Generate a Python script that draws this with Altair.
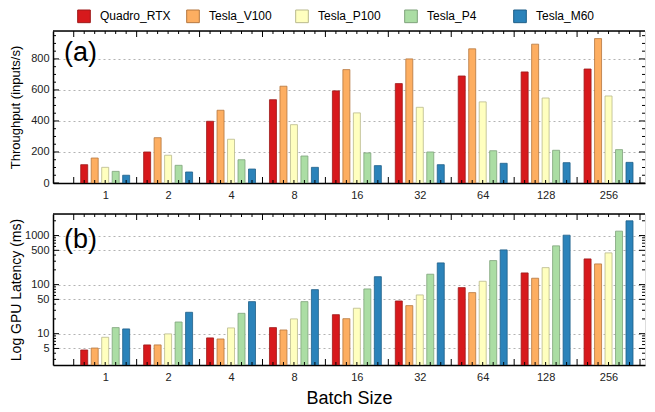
import altair as alt
import pandas as pd
import numpy as np

batches = ["1", "2", "4", "8", "16", "32", "64", "128", "256"]
gpus = ["Quadro_RTX", "Tesla_V100", "Tesla_P100", "Tesla_P4", "Tesla_M60"]
colors = ["#d7191c", "#fdae61", "#ffffbf", "#abdda4", "#2b83ba"]
strokes = ["#9e1a1a", "#b5773f", "#b9b98c", "#7ea27a", "#1f5f88"]

throughput = {
    "Quadro_RTX": [118, 200, 398, 537, 594, 641, 690, 716, 735],
    "Tesla_V100": [161, 292, 469, 624, 731, 800, 865, 895, 931],
    "Tesla_P100": [101, 179, 282, 376, 452, 488, 523, 548, 561],
    "Tesla_P4":   [75, 114, 150, 174, 194, 200, 208, 211, 215],
    "Tesla_M60":  [50, 71, 90, 101, 112, 118, 127, 131, 133],
}
latency = {
    "Quadro_RTX": [4.65, 5.9, 8.2, 13.3, 24.4, 46.4, 86.9, 173, 334],
    "Tesla_V100": [5.1, 5.9, 7.8, 11.9, 20.2, 37.3, 68.7, 135, 264],
    "Tesla_P100": [8.45, 9.9, 13.1, 20, 33, 61.6, 117, 222, 443],
    "Tesla_P4":   [13.3, 17.3, 26, 45, 81.6, 163, 309, 617, 1230],
    "Tesla_M60":  [12.5, 27.3, 45, 79, 145, 277, 510, 1018, 1995],
}

top_ticks = [0, 200, 400, 600, 800]
bot_ticks = [5, 10, 50, 100, 500, 1000]

rows = []
for gi, g in enumerate(gpus):
    for bi, b in enumerate(batches):
        rows.append({"batch": b, "gpu": g, "bi": bi, "gi": gi,
                     "throughput": throughput[g][bi], "latency": latency[g][bi]})
df = pd.DataFrame(rows)

W = 592
H1 = 152
H2 = 151
FONT = "Liberation Sans"

xscale = alt.Scale(domain=[-0.75, 8.5], nice=False, zero=False)
label_expr = "[" + ",".join("'%s'" % b for b in batches) + "][datum.value]"

# decoration tick positions (inward ticks)
xt = np.arange(-0.5, 8.5 + 1e-9, 1 / 6)
xtick_df = pd.DataFrame({"p": xt, "major": [abs((v + 0.5) - round(v + 0.5)) < 1e-6 for v in xt]})
ytop_df = pd.DataFrame({"v": np.arange(0, 951, 50)})
ytop_df["major"] = ytop_df["v"] % 200 == 0
ylog_vals = [d * 10 ** k for k in range(0, 4) for d in range(1, 10) if 2.3 <= d * 10 ** k <= 2750]
ybot_df = pd.DataFrame({"v": ylog_vals, "major": [v in bot_ticks for v in ylog_vals]})


def panel(field, yscale, yaxis, H, xaxis, show_legend, ytick_df, tag, tagy):
    base = alt.Chart(df).transform_calculate(pos="datum.bi + (datum.gi - 2) / 6")
    legend = None
    if show_legend:
        legend = alt.Legend(orient="none", legendX=24, legendY=-22, direction="horizontal",
                            title=None, columns=5, symbolType="square", symbolSize=160,
                            symbolStrokeWidth=1, labelFontSize=12, labelFont=FONT,
                            labelColor="black", columnPadding=13, gridAlign="all",
                            labelOffset=9)
    bars = base.mark_bar(size=7, strokeWidth=1, strokeOpacity=0.8, clip=True).encode(
        x=alt.X("pos:Q", scale=xscale, axis=xaxis),
        y=alt.Y(field + ":Q", scale=yscale, axis=yaxis, stack=None),
        color=alt.Color("gpu:N", scale=alt.Scale(domain=gpus, range=colors), legend=legend),
        stroke=alt.Stroke("gpu:N", scale=alt.Scale(domain=gpus, range=strokes), legend=None),
    )

    def xticks(top, major):
        d = xtick_df[xtick_df["major"] == major]
        L = 6 if major else 3
        if top:
            yy, yy2 = 0, L
        else:
            yy, yy2 = H, H - L
        return alt.Chart(d).mark_rule(color="black", strokeWidth=1).encode(
            x=alt.X("p:Q", scale=xscale, axis=xaxis), y=alt.value(yy), y2=alt.value(yy2))

    def yticks(right, major):
        d = ytick_df[ytick_df["major"] == major]
        L = 6 if major else 3
        xx, xx2 = (W - L, W) if right else (0, L)
        return alt.Chart(d).mark_rule(color="black", strokeWidth=1).encode(
            y=alt.Y("v:Q", scale=yscale, axis=yaxis), x=alt.value(xx), x2=alt.value(xx2))

    frame_top = alt.Chart(pd.DataFrame({"a": [0]})).mark_rule(color="black", strokeWidth=1.5).encode(
        x=alt.value(0), x2=alt.value(W), y=alt.value(0))
    text = alt.Chart(pd.DataFrame({"t": [tag]})).mark_text(
        fontSize=27, font=FONT, align="left", baseline="middle", color="black").encode(
        text="t:N", x=alt.value(11), y=alt.value(tagy))
    layers = [bars]
    for top in (True, False):
        for major in (True, False):
            layers.append(xticks(top, major))
    for right in (True, False):
        for major in (True, False):
            layers.append(yticks(right, major))
    layers += [frame_top, text]
    return alt.layer(*layers).properties(width=W, height=H)


axis_common = dict(domainColor="black", domainWidth=1.5, ticks=False, tickSize=0,
                   labelFont=FONT, labelFontSize=11, labelColor="#222222",
                   titleFont=FONT, titleFontWeight="normal", titleColor="black")

xaxis_top = alt.Axis(values=list(range(9)), labelExpr=label_expr, title=None, grid=False,
                     labelPadding=6, **axis_common)
xaxis_bot = alt.Axis(values=list(range(9)), labelExpr=label_expr, title="Batch Size", grid=False,
                     labelPadding=6, titleFontSize=18, titlePadding=7, **axis_common)

yaxis_top = alt.Axis(values=top_ticks, title="Throughput (inputs/s)", grid=True,
                     gridDash=[2, 3], gridColor="#b3b3b3", gridWidth=1,
                     labelPadding=4, titleFontSize=13, titlePadding=3,
                     minExtent=28, maxExtent=28, **axis_common)
yaxis_bot = alt.Axis(values=bot_ticks, format="d", title="Log GPU Latency (ms)", grid=True,
                     gridDash=[2, 3], gridColor="#b3b3b3", gridWidth=1,
                     labelPadding=4, titleFontSize=14, titlePadding=2,
                     minExtent=28, maxExtent=28, **axis_common)

top = panel("throughput", alt.Scale(domain=[0, 980], nice=False, zero=True), yaxis_top, H1,
            xaxis_top, True, ytop_df, "(a)", 22)
bot = panel("latency", alt.Scale(type="log", domain=[2.3, 2750], nice=False), yaxis_bot, H2,
            xaxis_bot, False, ybot_df, "(b)", 26)

chart = alt.vconcat(top, bot, spacing=31, bounds="flush").resolve_scale(
    color="independent", stroke="independent").properties(
    padding={"left": 0, "top": 0, "right": 0, "bottom": 0}
).configure_view(stroke=None).configure(font=FONT)

chart.save("out.html", embed_options={"renderer": "svg", "actions": False})
